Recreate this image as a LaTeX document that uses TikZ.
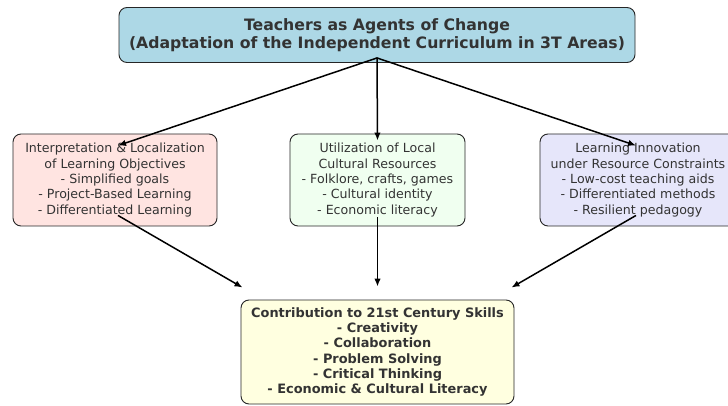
\documentclass[tikz,border=0pt]{standalone}
\usepackage{fontspec}
\setmainfont{DejaVu Sans}
\usepackage{xcolor}
\usetikzlibrary{arrows.meta,positioning}

\definecolor{boxblue}{HTML}{ADD8E6}
\definecolor{boxrose}{HTML}{FFE4E1}
\definecolor{boxgreen}{HTML}{F0FFF0}
\definecolor{boxlav}{HTML}{E6E6FA}
\definecolor{boxyellow}{HTML}{FFFFE0}

\begin{document}
\begin{tikzpicture}[
  x=1pt, y=-1pt,
  box/.style={draw=black!85, line width=0.9pt, rounded corners=8pt, inner sep=0pt, align=center,
    text=black!80, font=\fontsize{12.6}{15.4}\selectfont},
  head/.style={box, font=\fontsize{15.7}{18.5}\selectfont\bfseries},
  arr/.style={-{Latex[length=8pt,width=6.5pt]}, line width=1.5pt}
]
\useasboundingbox (0,0) rectangle (728,406);

% Top: main theme
\node[head, fill=boxblue, minimum width=516pt, minimum height=55pt] (agents) at (377,35)
  {Teachers as Agents of Change\\(Adaptation of the Independent Curriculum in 3T Areas)};

% Middle row
\node[box, fill=boxrose, minimum width=204pt, minimum height=92pt] (interp) at (115,180)
  {Interpretation \& Localization\\of Learning Objectives\\- Simplified goals\\- Project-Based Learning\\- Differentiated Learning};
\node[box, fill=boxgreen, minimum width=175pt, minimum height=92pt] (culture) at (377.5,180)
  {Utilization of Local\\Cultural Resources\\- Folklore, crafts, games\\- Cultural identity\\- Economic literacy};
\node[box, fill=boxlav, minimum width=196pt, minimum height=92pt] (innov) at (638,180)
  {Learning Innovation\\under Resource Constraints\\- Low-cost teaching aids\\- Differentiated methods\\- Resilient pedagogy};

% Bottom: outcome
\node[box, fill=boxyellow, minimum width=273pt, minimum height=104pt,
  font=\fontsize{12.9}{15.3}\selectfont\bfseries] (skills) at (377.5,352)
  {Contribution to 21st Century Skills\\- Creativity\\- Collaboration\\- Problem Solving\\- Critical Thinking\\- Economic \& Cultural Literacy};

% Arrows top -> middle
\draw[arr] ([yshift=5pt]agents.south) -- ([shift={(3pt,-12pt)}]interp.north);
\draw[arr] ([yshift=5pt]agents.south) -- ([yshift=-7pt]culture.north);
\draw[arr] ([yshift=5pt]agents.south) -- ([shift={(-2pt,-12pt)}]innov.north);

% Arrows middle -> bottom
\draw[arr] ([shift={(3pt,11pt)}]interp.south) -- ([shift={(2pt,12pt)}]skills.north west);
\draw[arr] ([yshift=9pt]culture.south) -- ([yshift=13pt]skills.north);
\draw[arr] ([shift={(-2pt,11pt)}]innov.south) -- ([shift={(-3pt,12pt)}]skills.north east);

\end{tikzpicture}
\end{document}
